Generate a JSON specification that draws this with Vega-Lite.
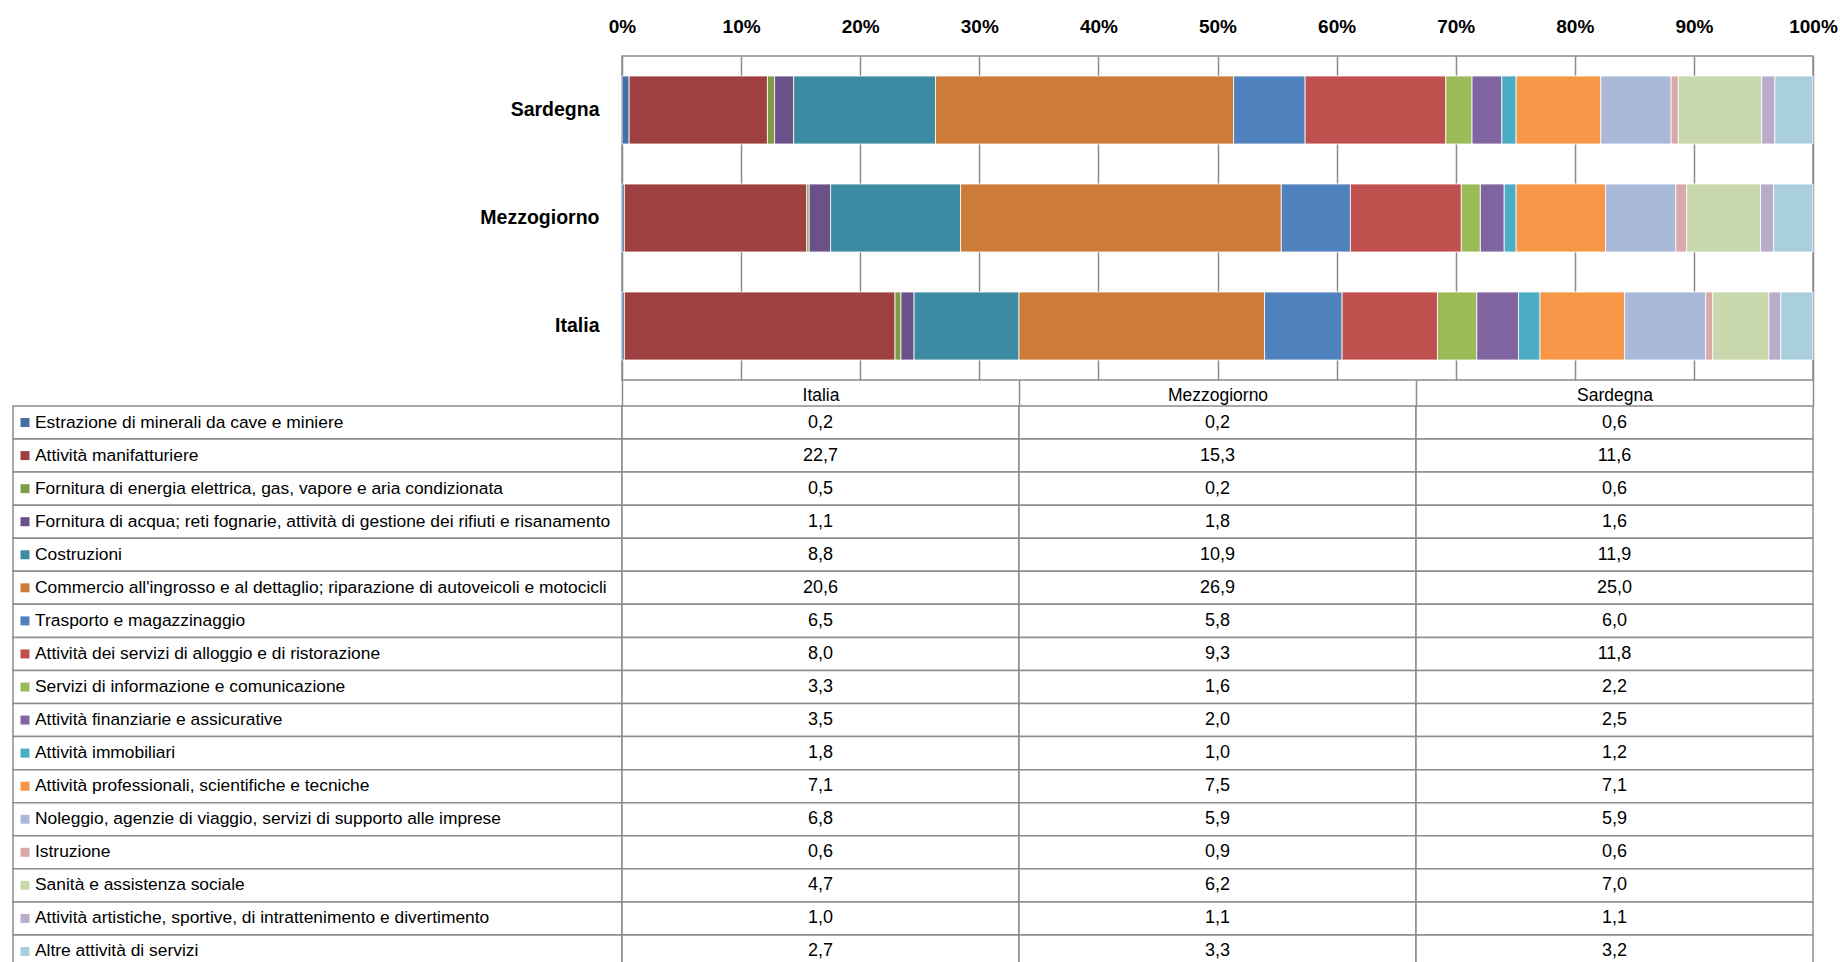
{
  "$schema": "https://vega.github.io/schema/vega-lite/v6.json",
  "padding": {"left": 12, "top": 16, "right": 0, "bottom": 0},
  "autosize": {"type": "pad"},
  "background": "white",
  "datasets": {
    "main": [
      {"idx": 1, "sector": "Estrazione di minerali da cave e miniere", "region": "Italia", "value": 0.2},
      {"idx": 1, "sector": "Estrazione di minerali da cave e miniere", "region": "Mezzogiorno", "value": 0.2},
      {"idx": 1, "sector": "Estrazione di minerali da cave e miniere", "region": "Sardegna", "value": 0.6},
      {"idx": 2, "sector": "Attività manifatturiere", "region": "Italia", "value": 22.7},
      {"idx": 2, "sector": "Attività manifatturiere", "region": "Mezzogiorno", "value": 15.3},
      {"idx": 2, "sector": "Attività manifatturiere", "region": "Sardegna", "value": 11.6},
      {"idx": 3, "sector": "Fornitura di energia elettrica, gas, vapore e aria condizionata", "region": "Italia", "value": 0.5},
      {"idx": 3, "sector": "Fornitura di energia elettrica, gas, vapore e aria condizionata", "region": "Mezzogiorno", "value": 0.2},
      {"idx": 3, "sector": "Fornitura di energia elettrica, gas, vapore e aria condizionata", "region": "Sardegna", "value": 0.6},
      {"idx": 4, "sector": "Fornitura di acqua; reti fognarie, attività di gestione dei rifiuti e risanamento", "region": "Italia", "value": 1.1},
      {"idx": 4, "sector": "Fornitura di acqua; reti fognarie, attività di gestione dei rifiuti e risanamento", "region": "Mezzogiorno", "value": 1.8},
      {"idx": 4, "sector": "Fornitura di acqua; reti fognarie, attività di gestione dei rifiuti e risanamento", "region": "Sardegna", "value": 1.6},
      {"idx": 5, "sector": "Costruzioni", "region": "Italia", "value": 8.8},
      {"idx": 5, "sector": "Costruzioni", "region": "Mezzogiorno", "value": 10.9},
      {"idx": 5, "sector": "Costruzioni", "region": "Sardegna", "value": 11.9},
      {"idx": 6, "sector": "Commercio all'ingrosso e al dettaglio; riparazione di autoveicoli e motocicli", "region": "Italia", "value": 20.6},
      {"idx": 6, "sector": "Commercio all'ingrosso e al dettaglio; riparazione di autoveicoli e motocicli", "region": "Mezzogiorno", "value": 26.9},
      {"idx": 6, "sector": "Commercio all'ingrosso e al dettaglio; riparazione di autoveicoli e motocicli", "region": "Sardegna", "value": 25.0},
      {"idx": 7, "sector": "Trasporto e magazzinaggio", "region": "Italia", "value": 6.5},
      {"idx": 7, "sector": "Trasporto e magazzinaggio", "region": "Mezzogiorno", "value": 5.8},
      {"idx": 7, "sector": "Trasporto e magazzinaggio", "region": "Sardegna", "value": 6.0},
      {"idx": 8, "sector": "Attività dei servizi di alloggio e di ristorazione", "region": "Italia", "value": 8.0},
      {"idx": 8, "sector": "Attività dei servizi di alloggio e di ristorazione", "region": "Mezzogiorno", "value": 9.3},
      {"idx": 8, "sector": "Attività dei servizi di alloggio e di ristorazione", "region": "Sardegna", "value": 11.8},
      {"idx": 9, "sector": "Servizi di informazione e comunicazione", "region": "Italia", "value": 3.3},
      {"idx": 9, "sector": "Servizi di informazione e comunicazione", "region": "Mezzogiorno", "value": 1.6},
      {"idx": 9, "sector": "Servizi di informazione e comunicazione", "region": "Sardegna", "value": 2.2},
      {"idx": 10, "sector": "Attività finanziarie e assicurative", "region": "Italia", "value": 3.5},
      {"idx": 10, "sector": "Attività finanziarie e assicurative", "region": "Mezzogiorno", "value": 2.0},
      {"idx": 10, "sector": "Attività finanziarie e assicurative", "region": "Sardegna", "value": 2.5},
      {"idx": 11, "sector": "Attività immobiliari", "region": "Italia", "value": 1.8},
      {"idx": 11, "sector": "Attività immobiliari", "region": "Mezzogiorno", "value": 1.0},
      {"idx": 11, "sector": "Attività immobiliari", "region": "Sardegna", "value": 1.2},
      {"idx": 12, "sector": "Attività professionali, scientifiche e tecniche", "region": "Italia", "value": 7.1},
      {"idx": 12, "sector": "Attività professionali, scientifiche e tecniche", "region": "Mezzogiorno", "value": 7.5},
      {"idx": 12, "sector": "Attività professionali, scientifiche e tecniche", "region": "Sardegna", "value": 7.1},
      {"idx": 13, "sector": "Noleggio, agenzie di viaggio, servizi di supporto alle imprese", "region": "Italia", "value": 6.8},
      {"idx": 13, "sector": "Noleggio, agenzie di viaggio, servizi di supporto alle imprese", "region": "Mezzogiorno", "value": 5.9},
      {"idx": 13, "sector": "Noleggio, agenzie di viaggio, servizi di supporto alle imprese", "region": "Sardegna", "value": 5.9},
      {"idx": 14, "sector": "Istruzione", "region": "Italia", "value": 0.6},
      {"idx": 14, "sector": "Istruzione", "region": "Mezzogiorno", "value": 0.9},
      {"idx": 14, "sector": "Istruzione", "region": "Sardegna", "value": 0.6},
      {"idx": 15, "sector": "Sanità e assistenza sociale", "region": "Italia", "value": 4.7},
      {"idx": 15, "sector": "Sanità e assistenza sociale", "region": "Mezzogiorno", "value": 6.2},
      {"idx": 15, "sector": "Sanità e assistenza sociale", "region": "Sardegna", "value": 7.0},
      {"idx": 16, "sector": "Attività artistiche, sportive, di intrattenimento e divertimento", "region": "Italia", "value": 1.0},
      {"idx": 16, "sector": "Attività artistiche, sportive, di intrattenimento e divertimento", "region": "Mezzogiorno", "value": 1.1},
      {"idx": 16, "sector": "Attività artistiche, sportive, di intrattenimento e divertimento", "region": "Sardegna", "value": 1.1},
      {"idx": 17, "sector": "Altre attività di servizi", "region": "Italia", "value": 2.7},
      {"idx": 17, "sector": "Altre attività di servizi", "region": "Mezzogiorno", "value": 3.3},
      {"idx": 17, "sector": "Altre attività di servizi", "region": "Sardegna", "value": 3.2}
    ]
  },
  "columns": 2,
  "spacing": {"row": 26, "column": 0},
  "bounds": "flush",
  "align": "each",
  "concat": [
    {
      "width": 609,
      "height": 324,
      "data": {"values": []},
      "mark": "point",
      "encoding": {}
    },
    {
      "width": 1191,
      "height": 324,
      "data": {"name": "main"},
      "view": {"stroke": "#8c8c8c", "strokeWidth": 1.5},
      "mark": {"type": "bar", "stroke": "#ffffff", "strokeWidth": 0.8},
      "encoding": {
        "y": {
          "field": "region",
          "type": "nominal",
          "scale": {"domain": ["Sardegna", "Mezzogiorno", "Italia"], "paddingInner": 0.3704, "paddingOuter": 0.1852},
          "axis": {"title": null, "domain": false, "ticks": false, "labelFontSize": 19.5, "labelFontWeight": "bold", "labelColor": "#000000", "labelPadding": 23, "labelLimit": 0}
        },
        "x": {
          "field": "value",
          "type": "quantitative",
          "stack": "normalize",
          "scale": {"domain": [0, 1], "nice": false},
          "axis": {
            "orient": "top",
            "title": null,
            "values": [0, 0.1, 0.2, 0.3, 0.4, 0.5, 0.6, 0.7, 0.8, 0.9, 1],
            "format": ".0%",
            "grid": true,
            "gridColor": "#8c8c8c",
            "gridWidth": 1.5,
            "domain": false,
            "ticks": false,
            "labelFontSize": 19,
            "labelFontWeight": "bold",
            "labelColor": "#000000",
            "labelPadding": 24,
            "labelBaseline": "alphabetic",
            "labelFlush": false,
            "labelOverlap": false
          }
        },
        "color": {
          "field": "sector",
          "type": "nominal",
          "scale": {
            "domain": ["Estrazione di minerali da cave e miniere", "Attività manifatturiere", "Fornitura di energia elettrica, gas, vapore e aria condizionata", "Fornitura di acqua; reti fognarie, attività di gestione dei rifiuti e risanamento", "Costruzioni", "Commercio all'ingrosso e al dettaglio; riparazione di autoveicoli e motocicli", "Trasporto e magazzinaggio", "Attività dei servizi di alloggio e di ristorazione", "Servizi di informazione e comunicazione", "Attività finanziarie e assicurative", "Attività immobiliari", "Attività professionali, scientifiche e tecniche", "Noleggio, agenzie di viaggio, servizi di supporto alle imprese", "Istruzione", "Sanità e assistenza sociale", "Attività artistiche, sportive, di intrattenimento e divertimento", "Altre attività di servizi"],
            "range": ["#4470A6", "#9E403F", "#7E9C45", "#6A5188", "#3D8BA2", "#CD7B38", "#4F81BD", "#C0504D", "#9BBB59", "#8064A2", "#4BACC6", "#F79646", "#AAB9D7", "#D9A8A8", "#C8D7AC", "#B9ACCB", "#A9CFDD"]
          },
          "legend": null
        },
        "order": {"field": "idx", "type": "quantitative", "sort": "ascending"}
      }
    },
    {
      "width": 609,
      "height": 562,
      "data": {"name": "main"},
      "transform": [{"filter": "datum.region === 'Italia'"}],
      "encoding": {
        "y": {"field": "sector", "type": "nominal", "sort": {"field": "idx", "op": "min"}, "scale": {"paddingInner": 0, "paddingOuter": 0}, "axis": null}
      },
      "layer": [
        {
          "mark": {"type": "rect", "fill": "#ffffff", "stroke": "#8c8c8c", "strokeWidth": 1.5},
          "encoding": {
            "x": {"datum": 0, "type": "quantitative", "scale": {"domain": [0, 1], "nice": false}, "axis": null},
            "x2": {"datum": 1}
          }
        },
        {
          "mark": {"type": "square", "size": 81, "opacity": 1, "xOffset": 12},
          "encoding": {
            "x": {"datum": 0, "type": "quantitative"},
            "color": {
              "field": "sector",
              "type": "nominal",
              "scale": {
                "domain": ["Estrazione di minerali da cave e miniere", "Attività manifatturiere", "Fornitura di energia elettrica, gas, vapore e aria condizionata", "Fornitura di acqua; reti fognarie, attività di gestione dei rifiuti e risanamento", "Costruzioni", "Commercio all'ingrosso e al dettaglio; riparazione di autoveicoli e motocicli", "Trasporto e magazzinaggio", "Attività dei servizi di alloggio e di ristorazione", "Servizi di informazione e comunicazione", "Attività finanziarie e assicurative", "Attività immobiliari", "Attività professionali, scientifiche e tecniche", "Noleggio, agenzie di viaggio, servizi di supporto alle imprese", "Istruzione", "Sanità e assistenza sociale", "Attività artistiche, sportive, di intrattenimento e divertimento", "Altre attività di servizi"],
                "range": ["#4470A6", "#9E403F", "#7E9C45", "#6A5188", "#3D8BA2", "#CD7B38", "#4F81BD", "#C0504D", "#9BBB59", "#8064A2", "#4BACC6", "#F79646", "#AAB9D7", "#D9A8A8", "#C8D7AC", "#B9ACCB", "#A9CFDD"]
              },
              "legend": null
            }
          }
        },
        {
          "mark": {"type": "text", "align": "left", "baseline": "middle", "dx": 22, "fontSize": 17.4, "color": "#000000"},
          "encoding": {
            "x": {"datum": 0, "type": "quantitative"},
            "text": {"field": "sector", "type": "nominal"}
          }
        }
      ]
    },
    {
      "width": 1191,
      "height": 562,
      "data": {"name": "main"},
      "encoding": {
        "x": {
          "field": "region",
          "type": "nominal",
          "scale": {"domain": ["Italia", "Mezzogiorno", "Sardegna"], "paddingInner": 0, "paddingOuter": 0},
          "axis": {"orient": "top", "title": null, "domain": false, "ticks": true, "tickBand": "extent", "tickSize": 26, "tickColor": "#8c8c8c", "tickWidth": 1.5, "labelAngle": 0, "labelFontSize": 17.5, "labelColor": "#000000", "labelPadding": -20, "labelBaseline": "alphabetic"}
        },
        "y": {"field": "sector", "type": "nominal", "sort": {"field": "idx", "op": "min"}, "scale": {"paddingInner": 0, "paddingOuter": 0}, "axis": null}
      },
      "layer": [
        {"mark": {"type": "rect", "fill": "#ffffff", "stroke": "#8c8c8c", "strokeWidth": 1.5}},
        {
          "mark": {"type": "text", "baseline": "middle", "fontSize": 18, "color": "#000000"},
          "encoding": {"text": {"field": "value", "type": "quantitative", "format": ".1f"}}
        }
      ]
    }
  ],
  "config": {
    "font": "Liberation Sans",
    "view": {"stroke": null},
    "locale": {"number": {"decimal": ",", "thousands": ".", "grouping": [3], "currency": ["€", ""]}}
  }
}
